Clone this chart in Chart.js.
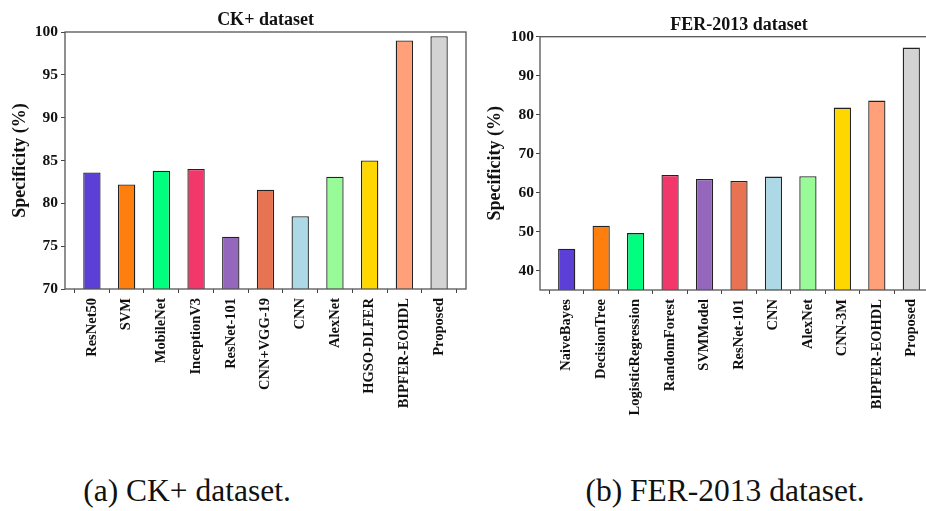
<!DOCTYPE html>
<html>
<head>
<meta charset="utf-8">
<script src="https://cdn.jsdelivr.net/npm/chart.js@4.4.1/dist/chart.umd.min.js"></script>
<style>
  html, body { margin: 0; padding: 0; background: #fff; overflow: hidden; width: 926px; height: 511px; }
  .box { position: absolute; top: 0; height: 440px; }
  .cap { position: absolute; top: 473px; font-family: 'Liberation Serif', serif; font-size: 31.5px; color: #111; white-space: nowrap; transform: translateX(-50%); }
</style>
</head>
<body>
<div class="box" style="left:0; width:470px;"><canvas id="graficoCK"></canvas></div>
<div class="box" style="left:470px; width:480px;"><canvas id="graficoFER"></canvas></div>
<div class="cap" style="left:187px;">(a) CK+ dataset.</div>
<div class="cap" style="left:725px;">(b) FER-2013 dataset.</div>

<script>
const ckLabels = ["ResNet50", "SVM", "MobileNet", "InceptionV3", "ResNet-101", "CNN+VGG-19", "CNN", "AlexNet", "HGSO-DLFER", "BIPFER-EOHDL", "Proposed"];
const ckValues = [83.6, 82.2, 83.8, 84.0, 76.1, 81.6, 78.5, 83.1, 85.0, 99.0, 99.5];
const ckTicks = [70, 75, 80, 85, 90, 95, 100];

const ferLabels = ["NaiveBayes", "DecisionTree", "LogisticRegression", "RandomForest", "SVMModel", "ResNet-101", "CNN", "AlexNet", "CNN-3M", "BIPFER-EOHDL", "Proposed"];
const ferValues = [45.6, 51.5, 49.6, 64.5, 63.5, 63.0, 64.1, 64.2, 81.8, 83.6, 97.2];
const ferTicks = [40, 50, 60, 70, 80, 90, 100];

const barColors = ["#5B3FD6", "#FF7F0E", "#00FF7F", "#F2386B", "#9467BD", "#E87352", "#ADD8E6", "#98FB98", "#FFD700", "#FFA07A", "#D3D3D3"];

const serif = "'Liberation Serif', 'Times New Roman', serif";

// moldura completa (matplotlib desenha as quatro bordas)
const moldura = {
    id: "moldura",
    afterDatasetsDraw(chart) {
        const a = chart.chartArea;
        const ctx = chart.ctx;
        ctx.save();
        ctx.strokeStyle = "#555";
        ctx.lineWidth = 1.3;
        ctx.strokeRect(a.left, a.top, a.right - a.left, a.bottom - a.top);
        ctx.restore();
    }
};

function criarGrafico(canvasId, titulo, labels, values, ticks, yMin, cfg) {
    const ctx = document.getElementById(canvasId).getContext("2d");
    new Chart(ctx, {
        type: "bar",
        data: {
            datasets: [{
                data: labels.map((l, i) => ({ x: i, y: values[i] })),
                backgroundColor: barColors,
                borderColor: "#222",
                borderWidth: 1.3,
                borderSkipped: false,
                categoryPercentage: 1,
                barPercentage: 0.5
            }]
        },
        options: {
            responsive: true,
            maintainAspectRatio: false,
            animation: false,
            devicePixelRatio: 1,
            layout: { padding: { left: 0, right: cfg.padRight, top: 0, bottom: 0 } },
            plugins: {
                legend: { display: false },
                tooltip: { enabled: false },
                title: {
                    display: true,
                    text: titulo,
                    fullSize: false,
                    color: "#111",
                    font: { family: serif, size: 18, weight: "bold", lineHeight: 1 },
                    padding: { top: cfg.titleTop, bottom: cfg.titleBottom }
                }
            },
            scales: {
                x: {
                    type: "linear",
                    offset: false,
                    min: -0.775,
                    max: labels.length - 1 + 0.775,
                    afterBuildTicks: s => { s.ticks = labels.map((l, i) => ({ value: i })); },
                    afterFit: s => { s.height = cfg.xHeight; },
                    ticks: {
                        autoSkip: false,
                        minRotation: 90,
                        maxRotation: 90,
                        padding: 5,
                        color: "#111",
                        font: { family: serif, size: 14.5, weight: "bold" },
                        callback: v => labels[v]
                    },
                    grid: { display: true, drawOnChartArea: false, tickLength: 4, color: "#444" },
                    border: { display: false }
                },
                y: {
                    min: yMin,
                    max: 100,
                    afterBuildTicks: s => { s.ticks = ticks.map(v => ({ value: v })); },
                    afterFit: s => { s.width = cfg.yWidth; },
                    ticks: {
                        padding: cfg.tickPad,
                        color: "#111",
                        font: { family: serif, size: 15.5, weight: "bold" }
                    },
                    grid: { display: true, drawOnChartArea: false, tickLength: 4, color: "#444" },
                    border: { display: false },
                    title: {
                        display: true,
                        text: "Specificity (%)",
                        color: "#111",
                        font: { family: serif, size: 18, weight: "bold" },
                        padding: { top: cfg.yTitlePad, bottom: 0 }
                    }
                }
            }
        },
        plugins: [moldura]
    });
}

criarGrafico("graficoCK", "CK+ dataset", ckLabels, ckValues, ckTicks, 70,
    { padRight: 4, titleTop: 11, titleBottom: 3, xHeight: 151, yWidth: 65, tickPad: 3, yTitlePad: 10 });
criarGrafico("graficoFER", "FER-2013 dataset", ferLabels, ferValues, ferTicks, 35,
    { padRight: 12, titleTop: 16, titleBottom: 2.7, xHeight: 150, yWidth: 70, tickPad: 2, yTitlePad: 15 });
</script>
</body>
</html>
